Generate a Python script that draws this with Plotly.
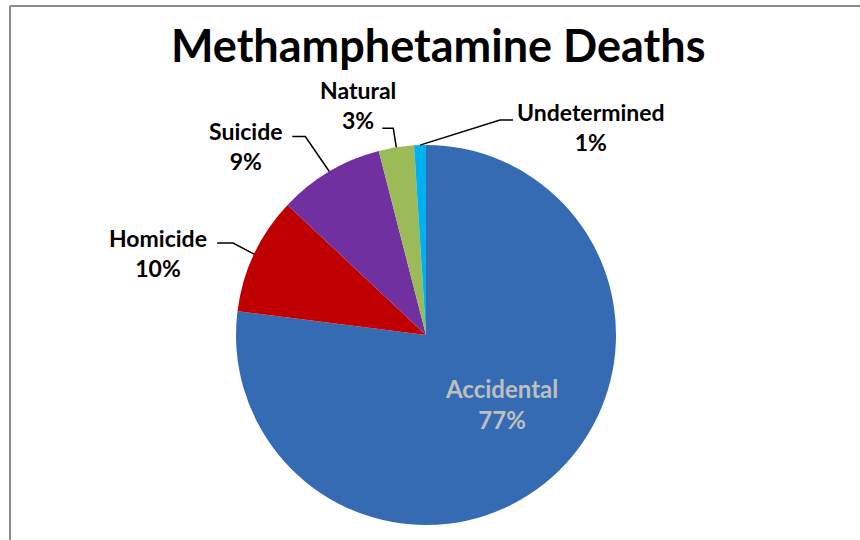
import math
import plotly.graph_objects as go

categories = ["Accidental", "Homicide", "Suicide", "Natural", "Undetermined"]
values = [77, 10, 9, 3, 1]
colors = ["#346BB3", "#C00000", "#7030A0", "#9BBB59", "#00B0F0"]
title_text = "Methamphetamine Deaths"

W, H = 860, 540
cx, cy, R = 426, 335, 190

# label placement (offset of elbow & text from anchor on pie edge)
label_cfg = {
    "Homicide": dict(elbow=(-21, -11), end=(-37, -11), text=(158, 253)),
    "Suicide": dict(elbow=(-24, -35), end=(-37, -35), text=(245, 146)),
    "Natural": dict(elbow=(-3, -19), end=(-14, -19), text=(358, 105)),
    "Undetermined": dict(elbow=(80, -25), end=(93, -25), text=(591, 127)),
}

fig = go.Figure()
fig.add_trace(go.Pie(
    labels=categories, values=values, sort=False, direction="clockwise", rotation=0,
    marker=dict(colors=colors, line=dict(width=0)),
    textinfo="none", hoverinfo="label+percent", showlegend=False,
    domain=dict(x=[(cx - R) / W, (cx + R) / W], y=[1 - (cy + R) / H, 1 - (cy - R) / H]),
))

total = sum(values)
cum = 0
shapes = []
annotations = []
family = "Lato, Carlito, 'Open Sans', sans-serif"
font_lbl = dict(family=family, size=23, color="#000000")
for cat, v in zip(categories, values):
    mid = (cum + v / 2) / total * 2 * math.pi
    cum += v
    pct = f"{round(v / total * 100)}%"
    if cat == "Accidental":
        rr = 0.53 * R
        tx, ty = cx + rr * math.sin(mid), cy - rr * math.cos(mid)
        annotations.append(dict(x=tx + 9, y=ty - 7, xref="x", yref="y",
                                text=f"<b>{cat}</b><br><b>{pct}</b>",
                                showarrow=False, align="center",
                                font=dict(family=family, size=24, color="#BFBFBF")))
        continue
    ax, ay = cx + R * math.sin(mid), cy - R * math.cos(mid)
    c = label_cfg[cat]
    ex, ey = ax + c["elbow"][0], ay + c["elbow"][1]
    fx, fy = ax + c["end"][0], ay + c["end"][1]
    shapes.append(dict(type="path", xref="x", yref="y",
                       path=f"M {ax:.1f} {ay:.1f} L {ex:.1f} {ey:.1f} L {fx:.1f} {fy:.1f}",
                       line=dict(color="#000000", width=1.5)))
    annotations.append(dict(x=c["text"][0], y=c["text"][1], xref="x", yref="y",
                            text=f"<b>{cat}</b><br><b>{pct}</b>", showarrow=False, align="center",
                            font=font_lbl))

annotations.append(dict(x=438, y=45, xref="x", yref="y", text=f"<b>{title_text}</b>",
                        showarrow=False, font=dict(family=family, size=45, color="#000000")))

# frame lines
shapes.append(dict(type="line", xref="x", yref="y", x0=10, y0=6, x1=W, y1=6,
                   line=dict(color="#8C8C8C", width=2)))
shapes.append(dict(type="line", xref="x", yref="y", x0=10, y0=6, x1=10, y1=H,
                   line=dict(color="#8C8C8C", width=2)))

fig.update_layout(
    width=W, height=H, margin=dict(l=0, r=0, t=0, b=0),
    paper_bgcolor="#FFFFFF", plot_bgcolor="rgba(0,0,0,0)",
    xaxis=dict(range=[0, W], visible=False, fixedrange=True),
    yaxis=dict(range=[H, 0], visible=False, fixedrange=True),
    shapes=shapes, annotations=annotations,
)
fig.write_html("out.html", config={"displayModeBar": False},
               post_script="document.body.style.margin='0';")
